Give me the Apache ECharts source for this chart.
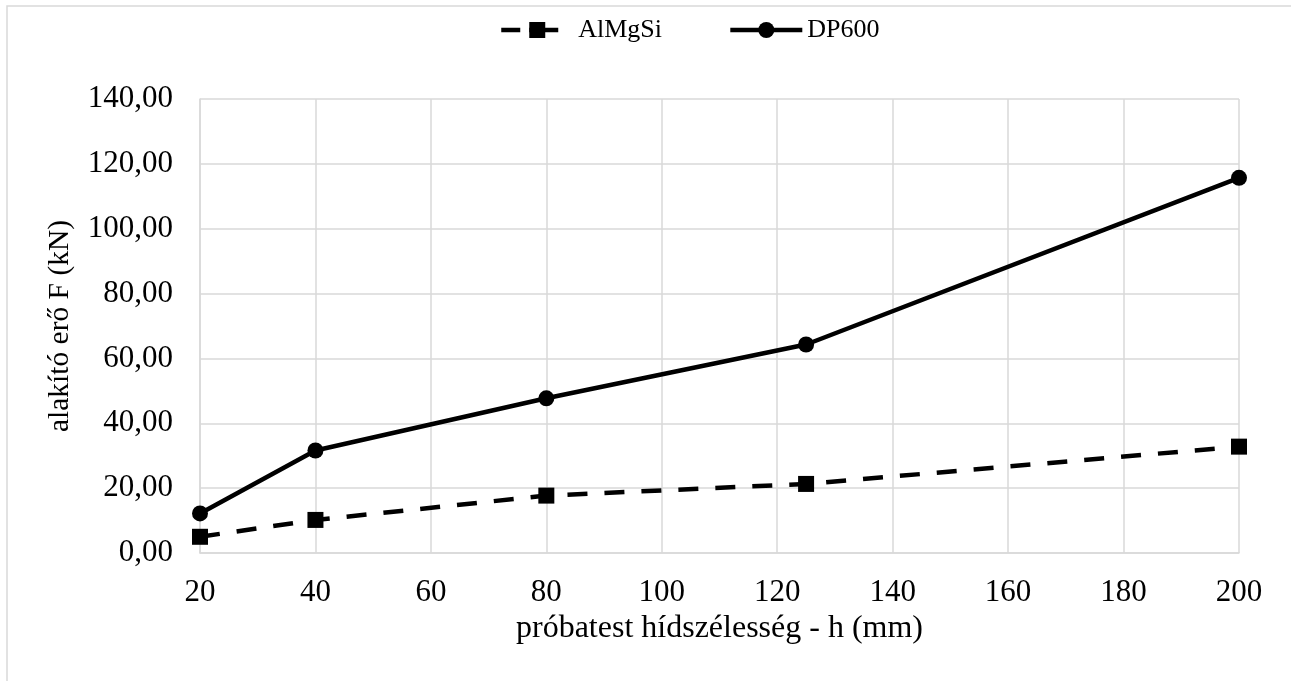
<!DOCTYPE html>
<html>
<head>
<meta charset="utf-8">
<script src="https://cdn.jsdelivr.net/npm/echarts@6/dist/echarts.min.js"></script>
<style>html,body{margin:0;padding:0;background:#fff;}#c{width:1291px;height:681px;}</style>
</head>
<body>
<div id="c"></div>
<script>
const widths = [20, 40, 80, 125, 200];
const almgsi = [5.0, 10.2, 17.7, 21.3, 32.8];
const dp600 = [12.2, 31.6, 47.7, 64.3, 115.7];
const seriesNames = ['AlMgSi', 'DP600'];
const xTitle = 'próbatest hídszélesség - h (mm)';
const yTitle = 'alakító erő F (kN)';

const font = '"Liberation Serif", "Times New Roman", serif';
const chart = echarts.init(document.getElementById('c'));
chart.setOption({
  animation: false,
  backgroundColor: '#fff',
  textStyle: { fontFamily: font, color: '#000' },
  graphic: [{
    type: 'rect', silent: true,
    shape: { x: 7, y: 6, width: 1400, height: 800 },
    style: { fill: 'none', stroke: '#d9d9d9', lineWidth: 1.5 }
  }],
  legend: {
    top: 12, left: 494, itemGap: 66, itemWidth: 72, itemHeight: 20,
    textStyle: { fontFamily: font, fontSize: 26, color: '#000' },
    data: [
      { name: seriesNames[0], lineStyle: { width: 4.5, type: [19, 9, 29, 15] } },
      { name: seriesNames[1], lineStyle: { width: 4.5 } }
    ]
  },
  grid: { left: 200, right: 52, top: 99, bottom: 128, containLabel: false },
  xAxis: {
    type: 'value', min: 20, max: 200, interval: 20,
    name: xTitle, nameLocation: 'middle', nameGap: 39,
    nameTextStyle: { fontFamily: font, fontSize: 32, color: '#000' },
    axisLine: { show: true, lineStyle: { color: '#d9d9d9', width: 1.5 } },
    axisTick: { show: false },
    axisLabel: { fontFamily: font, fontSize: 31, color: '#000', margin: 24 },
    splitLine: { show: true, lineStyle: { color: '#d9d9d9', width: 1.5 } }
  },
  yAxis: {
    type: 'value', min: 0, max: 140, interval: 20,
    name: yTitle, nameLocation: 'middle', nameGap: 125, nameRotate: 90,
    nameTextStyle: { fontFamily: font, fontSize: 29.5, color: '#000' },
    axisLine: { show: true, lineStyle: { color: '#d9d9d9', width: 1.5 } },
    axisTick: { show: false },
    axisLabel: { fontFamily: font, fontSize: 31, color: '#000', margin: 27,
      formatter: v => v.toFixed(2).replace('.', ',') },
    splitLine: { show: true, lineStyle: { color: '#d9d9d9', width: 1.5 } }
  },
  series: [
    {
      name: seriesNames[0], type: 'line',
      data: widths.map((w, i) => [w, almgsi[i]]),
      symbol: 'rect', symbolSize: 16,
      itemStyle: { color: '#000' },
      lineStyle: { color: '#000', width: 4.5, type: [20, 17] }
    },
    {
      name: seriesNames[1], type: 'line',
      data: widths.map((w, i) => [w, dp600[i]]),
      symbol: 'circle', symbolSize: 16,
      itemStyle: { color: '#000' },
      lineStyle: { color: '#000', width: 4.5 }
    }
  ]
});
</script>
</body>
</html>
